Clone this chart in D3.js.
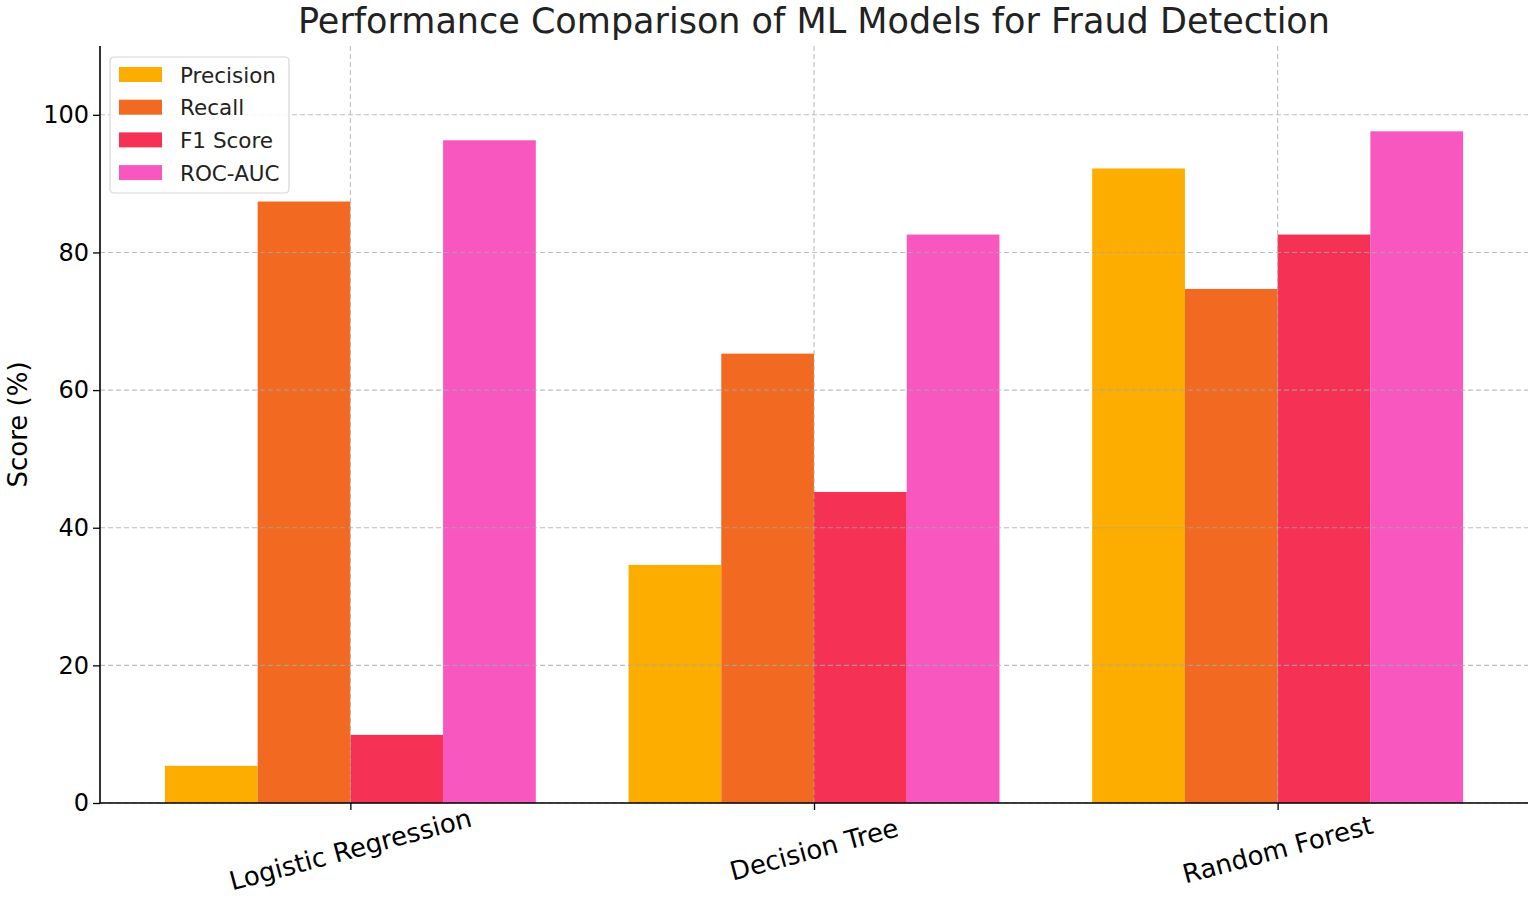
<!DOCTYPE html>
<html>
<head>
<meta charset="utf-8">
<script src="https://cdn.jsdelivr.net/npm/d3@7"></script>
<style>
  body { margin: 0; background: #fff; }
  svg { font-family: "DejaVu Sans", sans-serif; }
</style>
</head>
<body>
<div id="chart"></div>
<script>
const models = ['Logistic Regression', 'Decision Tree', 'Random Forest'];
const metrics = ['Precision', 'Recall', 'F1 Score', 'ROC-AUC'];
const precision = [5.4, 34.6, 92.2];
const recall = [87.4, 65.3, 74.7];
const f1 = [9.9, 45.2, 82.6];
const rocAuc = [96.3, 82.6, 97.6];
const yTicks = [0, 20, 40, 60, 80, 100];
const colors = ['#fdac00', '#f26a21', '#f53155', '#f957c0'];

const series = [precision, recall, f1, rocAuc];

const W = 1536, H = 902;
const margin = { top: 46, right: 8, bottom: 99, left: 100 };

const svg = d3.select('#chart').append('svg')
  .attr('width', W).attr('height', H);

// x as a continuous index scale like the original plot (bars span -0.4..2.4 plus 5% margin)
const x = d3.scaleLinear().domain([-0.54, 2.54]).range([margin.left, W - margin.right]);
const y = d3.scaleLinear().domain([0, 110]).range([H - margin.bottom, margin.top]);
const barW = 0.2;

const g = svg.append('g');

// bars
series.forEach((vals, si) => {
  g.selectAll('.bar' + si)
    .data(vals)
    .join('rect')
    .attr('x', (d, i) => x(i - 0.4 + si * barW))
    .attr('width', x(barW) - x(0))
    .attr('y', d => y(d))
    .attr('height', d => y(0) - y(d))
    .attr('fill', colors[si]);
});

// grid (drawn faintly over the bars, as in the picture)
g.selectAll('.hgrid').data(yTicks).join('line')
  .attr('x1', margin.left).attr('x2', W - margin.right)
  .attr('y1', d => y(d)).attr('y2', d => y(d))
  .attr('stroke', '#a8a8a8').attr('stroke-opacity', 0.75)
  .attr('stroke-dasharray', '5,3').attr('stroke-width', 1.1);
g.selectAll('.vgrid').data(models).join('line')
  .attr('x1', (d, i) => x(i)).attr('x2', (d, i) => x(i))
  .attr('y1', margin.top).attr('y2', y(0))
  .attr('stroke', '#a8a8a8').attr('stroke-opacity', 0.75)
  .attr('stroke-dasharray', '5,3').attr('stroke-width', 1.1);

// y axis
const yAxis = svg.append('g')
  .attr('transform', `translate(${margin.left},0)`)
  .call(d3.axisLeft(y).tickValues(yTicks).tickSize(7).tickPadding(4));
yAxis.select('.domain').attr('stroke', '#000').attr('stroke-width', 1.6)
  .attr('d', `M0,${margin.top}V${y(0)}`);
yAxis.selectAll('.tick line').attr('stroke', '#000').attr('stroke-width', 1.3);
yAxis.selectAll('.tick text').attr('font-size', 24).attr('fill', '#000')
  .attr('font-family', '"DejaVu Sans", sans-serif');

// x axis
const xAxis = svg.append('g')
  .attr('transform', `translate(0,${y(0)})`)
  .call(d3.axisBottom(x).tickValues([0, 1, 2]).tickFormat(i => models[i]).tickSize(7));
xAxis.select('.domain').attr('stroke', '#000').attr('stroke-width', 1.6)
  .attr('d', `M${margin.left},0H${W - margin.right}`);
xAxis.selectAll('.tick line').attr('stroke', '#000').attr('stroke-width', 1.3);
xAxis.selectAll('.tick text')
  .attr('font-size', 26).attr('fill', '#000')
  .attr('font-family', '"DejaVu Sans", sans-serif')
  .attr('text-anchor', 'middle')
  .attr('dy', null).attr('y', 0)
  .attr('transform', 'translate(0,48) rotate(-15)')
  .attr('dominant-baseline', 'middle');

// y label
svg.append('text')
  .attr('transform', `translate(27,${(margin.top + y(0)) / 2}) rotate(-90)`)
  .attr('text-anchor', 'middle')
  .attr('font-size', 26).attr('fill', '#000')
  .text('Score (%)');

// title
svg.append('text')
  .attr('x', (margin.left + W - margin.right) / 2).attr('y', 33)
  .attr('text-anchor', 'middle')
  .attr('font-size', 35).attr('fill', '#222')
  .text('Performance Comparison of ML Models for Fraud Detection');

// legend
const lg = svg.append('g').attr('transform', 'translate(110,57)');
lg.append('rect').attr('width', 179).attr('height', 136).attr('rx', 4)
  .attr('fill', '#fff').attr('fill-opacity', 0.85)
  .attr('stroke', '#d6d6d6').attr('stroke-width', 1.2);
metrics.forEach((m, i) => {
  const row = lg.append('g').attr('transform', `translate(9,${18 + i * 32.7})`);
  row.append('rect').attr('x', 0).attr('y', -8).attr('width', 43).attr('height', 15)
    .attr('fill', colors[i]);
  row.append('text').attr('x', 61).attr('y', 0).attr('dy', '0.35em')
    .attr('font-size', 21.5).attr('fill', '#222').text(m);
});
</script>
</body>
</html>
